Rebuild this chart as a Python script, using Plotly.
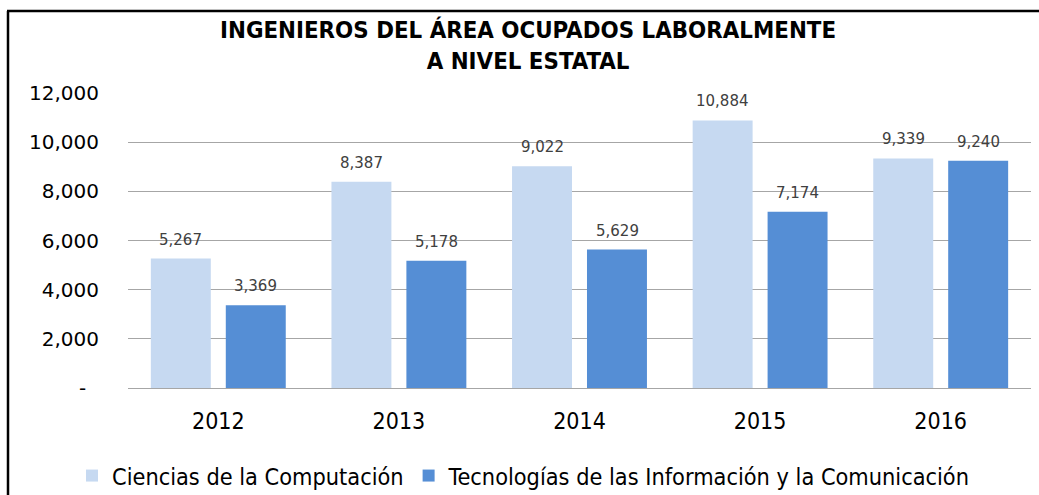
import plotly.graph_objects as go

years = ["2012", "2013", "2014", "2015", "2016"]
computacion = [5267, 8387, 9022, 10884, 9339]
tic = [3369, 5178, 5629, 7174, 9240]
series_names = ["Ciencias de la Computación",
                "Tecnologías de las Información y la Comunicación"]
y_ticks = [0, 2000, 4000, 6000, 8000, 10000, 12000]
y_ticklabels = ["-\u00a0\u00a0", "2,000", "4,000", "6,000", "8,000", "10,000", "12,000"]

light = "#C6D9F1"
dark = "#558ED5"
narrow = "DejaVu Sans Condensed, sans-serif"
wide = "DejaVu Sans, Verdana, sans-serif"

fig = go.Figure()
fig.add_trace(go.Bar(x=years, y=computacion, name=series_names[0],
                     marker=dict(color=light, line=dict(width=0))))
fig.add_trace(go.Bar(x=years, y=tic, name=series_names[1],
                     marker=dict(color=dark, line=dict(width=0))))

# value labels above each bar (category index positions, shifted to each bar)
annotations = []
for vals, shift in ((computacion, -37.5), (tic, 37.5)):
    for idx, v in enumerate(vals):
        annotations.append(dict(x=idx, y=v, xref="x", yref="y", text=f"{v:,}",
                                showarrow=False, xshift=shift, yshift=19,
                                font=dict(family=wide, size=15, color="#404040")))

annotations.append(dict(
    x=0.443, y=1.161, xref="paper", yref="paper", xanchor="center", yanchor="middle",
    showarrow=False,
    text="<b>INGENIEROS DEL ÁREA OCUPADOS LABORALMENTE<br>A NIVEL ESTATAL</b>",
    font=dict(family=narrow, size=23.8, color="#000000"), align="center"))

# outer frame (top and left edges)
shapes = [
    dict(type="line", xref="paper", yref="paper", x0=(7 - 128) / 903, x1=1.02,
         y0=(388 - 11) / 295, y1=(388 - 11) / 295, line=dict(color="#000000", width=2.5)),
    dict(type="line", xref="paper", yref="paper", x0=(8 - 128) / 903, x1=(8 - 128) / 903,
         y0=(388 - 11) / 295, y1=-0.5, line=dict(color="#000000", width=2.5)),
]

fig.update_layout(
    width=1039, height=495,
    margin=dict(l=128, r=8, t=93, b=107, autoexpand=False),
    paper_bgcolor="white", plot_bgcolor="white",
    barmode="group", bargap=0.17, bargroupgap=0.2,
    showlegend=True,
    legend=dict(orientation="h", x=0.438, xanchor="center", y=-0.298, yanchor="middle",
                font=dict(family=narrow, size=23.3, color="#000000"),
                tracegroupgap=0, traceorder="normal"),
    annotations=annotations, shapes=shapes,
)
fig.update_xaxes(type="category", showgrid=False, showline=True, linecolor="#A6A6A6",
                 linewidth=1, ticks="", ticklabelstandoff=12,
                 tickfont=dict(family=narrow, size=23, color="#000000"))
fig.update_yaxes(range=[0, 12000], tickvals=y_ticks, ticktext=y_ticklabels,
                 showgrid=True, gridcolor="#A6A6A6", gridwidth=1, zeroline=False,
                 showline=False, ticks="", ticklabelstandoff=28,
                 tickfont=dict(family=wide, size=20, color="#000000"))

fig.write_html("out.html")
